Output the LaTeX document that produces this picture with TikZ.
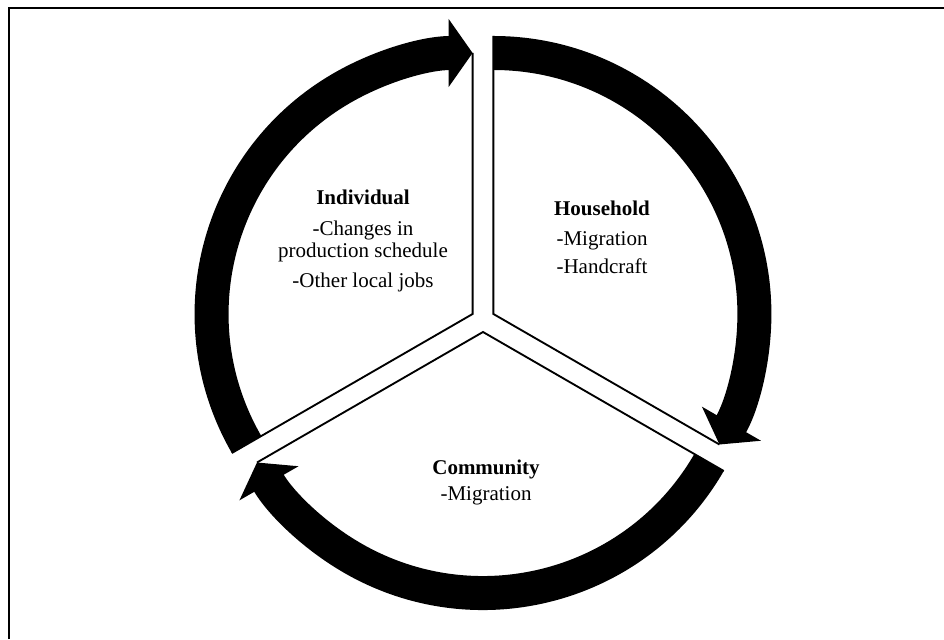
\documentclass[tikz,border=0pt]{standalone}
\usepackage{fontspec}
\setmainfont{Liberation Serif}
\usetikzlibrary{arrows.meta, calc}

\begin{document}
\begin{tikzpicture}[x=0.75pt, y=0.75pt,
  band/.style={line width=25.5pt, -{Triangle[width=50.25pt, length=18pt]}},
  edge/.style={line width=1.4pt},
  lbl/.style={align=center, inner sep=0pt, font=\fontsize{15.75}{16.5}\selectfont}]
  \useasboundingbox (0,0) rectangle (944,639);
  \draw[line width=1.5pt] (8.5,0) -- (8.5,631) -- (944,631);
  \coordinate (hh) at (493.4,325);
  \coordinate (ind) at (472.6,325);
  \coordinate (com) at (483,307);
  \foreach \v/\a/\b in {hh/90/-30, ind/210/90, com/330/210}{
    \draw[edge] ($(\v)+(\a:278)$) -- (\v) -- ($(\v)+(\b:261)$);
    \draw[band] ($(\v)+(\a:261)$) arc[start angle=\a, end angle=\b, radius=261];
  }
  \node[lbl] (indtxt) at (363,398) {\textbf{Individual}\\[6.75pt]-Changes in\\production schedule\\[6pt]-Other local jobs};
  \node[lbl] (hhtxt) at (602,402) {\textbf{Household}\\[6pt]-Migration\\[4.5pt]-Handcraft};
  \node[lbl] (comtxt) at (486,157) {\textbf{Community}\\[3pt]-Migration};
\end{tikzpicture}
\end{document}
